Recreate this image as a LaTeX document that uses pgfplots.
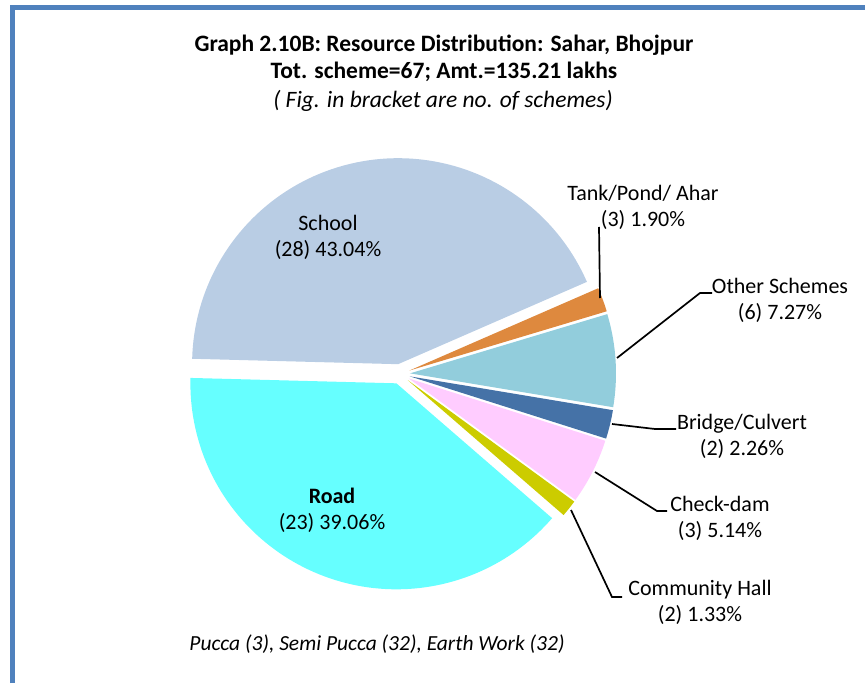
\documentclass[border=0pt]{standalone}
\usepackage{fontspec}
\setmainfont{Carlito}
\usepackage{pgfplots}
\pgfplotsset{compat=1.18}

\definecolor{cSchool}{RGB}{185,205,228}
\definecolor{cTank}{RGB}{222,137,62}
\definecolor{cOther}{RGB}{146,205,220}
\definecolor{cBridge}{RGB}{69,114,167}
\definecolor{cCheck}{RGB}{255,204,255}
\definecolor{cHall}{RGB}{204,204,0}
\definecolor{cRoad}{RGB}{102,255,255}
\definecolor{cFrame}{RGB}{79,129,189}

% pie geometry: centre (400,309), radius 206, every slice exploded by 10
\newcommand\curang{178.5}
\newcommand\pieslice[3]{%
  \pgfmathsetmacro\aS{\curang}%
  \pgfmathsetmacro\aE{\curang-3.6*#1}%
  \pgfmathsetmacro\aM{(\aS+\aE)/2}%
  \pgfmathsetmacro\ox{400+#2*cos(\aM)}%
  \pgfmathsetmacro\oy{309+#2*sin(\aM)}%
  \edef\doplot{\noexpand\addplot[fill=#3, draw=none, domain=\aE:\aS, samples=90]
     ({\ox+206*cos(\noexpand\x)}, {\oy+206*sin(\noexpand\x)}) -- (axis cs:\ox,\oy) -- cycle;}%
  \doplot
  \xdef\curang{\aE}%
}

\newcommand\labfont{\fontsize{22}{26}\selectfont}

\begin{document}
\begin{tikzpicture}
\begin{axis}[
  x=1pt, y=1pt,
  xmin=0, xmax=865, ymin=0, ymax=683,
  hide axis, clip=false,
  anchor=south west, at={(0,0)},
]
% slices, clockwise from 9 o'clock: value (%), explosion, colour
\pieslice{43.04}{10}{cSchool}
\pieslice{1.90}{10}{cTank}
\pieslice{7.27}{10}{cOther}
\pieslice{2.26}{10}{cBridge}
\pieslice{5.14}{10}{cCheck}
\pieslice{1.33}{10}{cHall}
\pieslice{39.06}{10}{cRoad}

% leader lines
\addplot[black, line width=1.7pt, no markers] coordinates {(600,385) (599,456)};
\addplot[black, line width=1.7pt, no markers] coordinates {(617,325) (700,390) (712,390)};
\addplot[black, line width=1.7pt, no markers] coordinates {(612,259) (655,254) (676,254)};
\addplot[black, line width=1.7pt, no markers] coordinates {(595,211) (657,172) (667,172)};
\addplot[black, line width=1.7pt, no markers] coordinates {(571,173) (612,86) (622,86)};

% frame
\addplot[cFrame, line width=5pt, no markers] coordinates {(12.5,0) (12.5,675.5) (865,675.5)};

% titles
\node[font=\bfseries\fontsize{23.5}{28}\selectfont] at (axis cs:444,638) {Graph 2.10B: Resource Distribution: Sahar, Bhojpur};
\node[font=\bfseries\fontsize{23.5}{28}\selectfont] at (axis cs:444,611) {Tot. scheme=67; Amt.=135.21 lakhs};
\node[font=\itshape\fontsize{23.5}{28}\selectfont] at (axis cs:443,582) {( Fig. in bracket are no. of schemes)};

% slice labels
\node[align=center, font=\labfont] at (axis cs:328,446) {School\\(28) 43.04\%};
\node[align=center, font=\labfont] at (axis cs:332,173) {\textbf{Road}\\(23) 39.06\%};
\node[align=center, font=\labfont] at (axis cs:643,476) {Tank/Pond/ Ahar\\(3) 1.90\%};
\node[align=center, font=\labfont] at (axis cs:780,383) {Other Schemes\\(6) 7.27\%};
\node[align=center, font=\labfont] at (axis cs:742,247) {Bridge/Culvert\\(2) 2.26\%};
\node[align=center, font=\labfont] at (axis cs:720,165) {Check-dam\\(3) 5.14\%};
\node[align=center, font=\labfont] at (axis cs:700,81) {Community Hall\\(2) 1.33\%};

\node[font=\itshape\fontsize{21.5}{26}\selectfont] at (axis cs:377,39) {Pucca (3), Semi Pucca (32), Earth Work (32)};
\end{axis}
\pgfresetboundingbox
\path[use as bounding box] (0,0) rectangle (865pt,683pt);
\end{tikzpicture}
\end{document}
